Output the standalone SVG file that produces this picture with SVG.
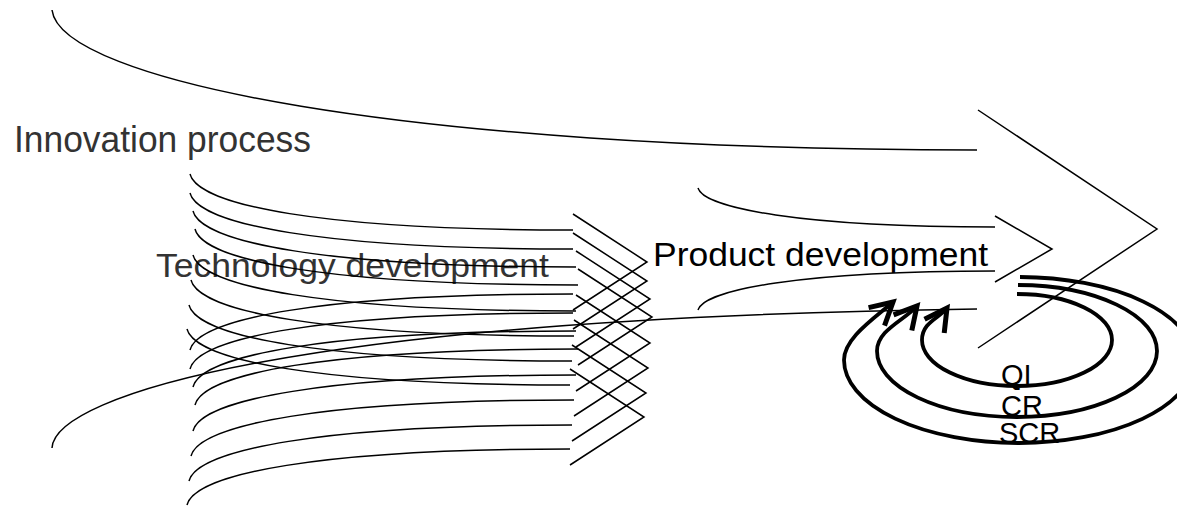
<svg xmlns="http://www.w3.org/2000/svg" xmlns:xlink="http://www.w3.org/1999/xlink" width="1177" height="507" viewBox="0 0 1177 507">
  <style>
    .shaft { fill: none; stroke: #000; stroke-width: 1.5; }
    .head { fill: none; stroke: #000; stroke-width: 1.5; stroke-linejoin: miter; }
    .loop { fill: none; stroke: #000; stroke-width: 3.8; marker-end: url(#barb); }
    .title { font-family: "Liberation Sans", Arial, sans-serif; font-size: 34px; fill: #333; }
    .title-dark { font-family: "Liberation Sans", Arial, sans-serif; font-size: 34px; fill: #000; }
    .tag { font-family: "Liberation Sans", Arial, sans-serif; font-size: 29px; fill: #000; }
  </style>
  <defs>
    <!-- open arrowhead used on the feedback loops -->
    <marker id="barb" markerUnits="userSpaceOnUse" viewBox="-26 -16 32 32" refX="0" refY="0"
            markerWidth="32" markerHeight="32" orient="auto" style="overflow:visible">
      <path d="M-22,-12 L0,0 L-22,12" fill="none" stroke="#000" stroke-width="5"/>
    </marker>
    <!-- one small technology arrow, tip at the origin -->
    <g id="tech-arrow">
      <path class="shaft" d="M-457,-88 C-449,-57 -327,-32 -74,-32"/>
      <path class="shaft" d="M-457,88 C-449,57 -327,32 -74,32"/>
      <path class="head" d="M-74,-48 L0,0 L-74,48"/>
    </g>
  </defs>

  <!-- large innovation process arrow -->
  <g id="innovation-process">
    <path class="shaft" d="M52,10 C60,80 400,150 977,150"/>
    <path class="shaft" d="M52,448 C55,395 300,318 977,309"/>
    <path class="head" d="M978,110 L1157,229 L978,348"/>
    <text class="title" x="14" y="152" style="font-size:36px" textLength="297" lengthAdjust="spacingAndGlyphs">Innovation process</text>
  </g>

  <!-- bundle of technology development arrows -->
  <g id="technology-development">
    <text class="title" x="156" y="277" textLength="393" lengthAdjust="spacingAndGlyphs">Technology development</text>
    <g id="tech-1"><use xlink:href="#tech-arrow" href="#tech-arrow" transform="translate(647,262)"/></g>
    <g id="tech-2"><use xlink:href="#tech-arrow" href="#tech-arrow" transform="translate(647,281)"/></g>
    <g id="tech-3"><use xlink:href="#tech-arrow" href="#tech-arrow" transform="translate(650,299)"/></g>
    <g id="tech-4"><use xlink:href="#tech-arrow" href="#tech-arrow" transform="translate(652,317)"/></g>
    <g id="tech-5"><use xlink:href="#tech-arrow" href="#tech-arrow" transform="translate(650,343)"/></g>
    <g id="tech-6"><use xlink:href="#tech-arrow" href="#tech-arrow" transform="translate(648,368)"/></g>
    <g id="tech-7"><use xlink:href="#tech-arrow" href="#tech-arrow" transform="translate(646,393)"/></g>
    <g id="tech-8"><use xlink:href="#tech-arrow" href="#tech-arrow" transform="translate(644,417)"/></g>
  </g>

  <!-- product development arrow -->
  <g id="product-development">
    <path class="shaft" d="M698,188 C704,208 800,227 995,227"/>
    <path class="shaft" d="M698,310 C704,290 800,271 995,271"/>
    <path class="head" d="M995,216 L1052,249 L995,282"/>
    <text class="title-dark" x="653" y="266" textLength="335" lengthAdjust="spacingAndGlyphs">Product development</text>
  </g>

  <!-- feedback loops: quality improvement, change request, system change request -->
  <g id="connectors">
    <path id="loop-qi" class="loop" d="M1017,294 A95,46 0 1 1 922,340 C922,322 940,318 947,308"/>
    <path id="loop-cr" class="loop" d="M1018,285 A140,66 0 1 1 877,351 C877,330 905,320 917,306"/>
    <path id="loop-scr" class="loop" d="M1020,277 A175,83 0 1 1 844,360 C844,338 875,318 893,302"/>
    <text class="tag" x="1001" y="385">QI</text>
    <text class="tag" x="1001" y="416">CR</text>
    <text class="tag" x="999" y="443">SCR</text>
  </g>
</svg>
